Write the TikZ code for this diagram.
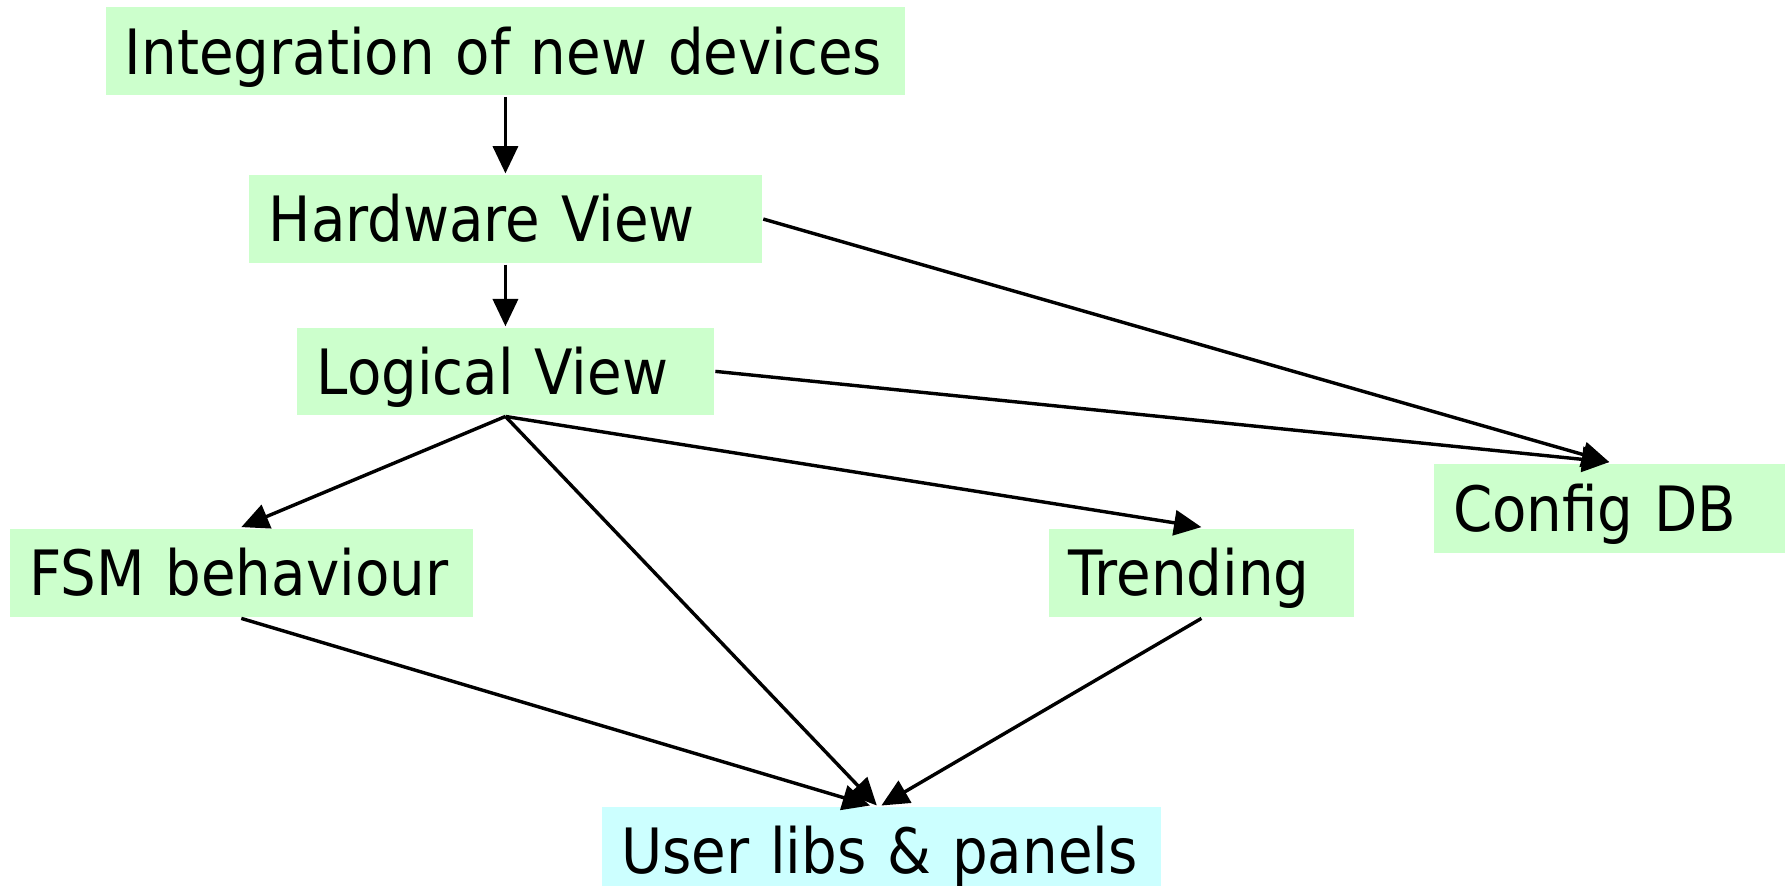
\documentclass[tikz,border=0pt]{standalone}
\usepackage{fontspec}
\setmainfont[FakeStretch=0.9]{DejaVu Sans}
\usetikzlibrary{arrows.meta}

\tikzset{every picture/.style={line width=1.5pt}}
\tikzset{
  greenbox/.style={fill={rgb,255:red,204;green,255;blue,204}, anchor=north west, inner xsep=8.5pt, inner ysep=0pt,
    text height=20pt, text depth=0pt, align=left, font=\fontsize{27.4}{30}\selectfont},
  cyanbox/.style={greenbox, fill={rgb,255:red,204;green,255;blue,255}},
  flow/.style={-{Triangle[length=12pt,width=11pt]}, line width=1.5pt}
}

\begin{document}
\begin{tikzpicture}[x=0.5pt,y=0.5pt,yscale=-1,xscale=1]
\useasboundingbox (0,0) rectangle (1568,776);

% Text Node
\node [greenbox, minimum height=38.5pt, text width=333.5pt] (intg) at (91,5) {Integration of new devices};
% Text Node
\node [greenbox, minimum height=38.5pt, text width=207.5pt] (hw) at (217,152) {Hardware View};
% Text Node
\node [greenbox, minimum height=38pt, text width=165.5pt] (lv) at (259,286) {Logical View};
% Text Node
\node [greenbox, minimum height=38.5pt, text width=186pt] (fsm) at (7,462) {FSM behaviour};
% Text Node
\node [greenbox, minimum height=38.5pt, text width=116.5pt] (trend) at (918,462) {Trending};
% Text Node
\node [greenbox, minimum height=39pt, text width=137pt] (cfg) at (1255,405) {Config DB};
% Text Node
\node [cyanbox, minimum height=38.5pt, text width=228pt] (user) at (526,706) {User libs \& panels};

%Straight Lines
\draw [flow] (intg.south) -- (hw.north);
\draw [flow] (hw.south) -- (lv.north);
\draw [flow] (hw.east) -- (cfg.north);
\draw [flow] (lv.east) -- (cfg.north);
%Straight Lines
\draw [flow] (lv.south) -- (fsm.north);
\draw [flow] (lv.south) -- (trend.north);
\draw [flow] (lv.south) -- ([xshift=-2pt]user.north);
%Straight Lines
\draw [flow] (fsm.south) -- ([xshift=-5pt]user.north);
\draw [flow] (trend.south) -- ([xshift=0pt]user.north);

\end{tikzpicture}
\end{document}
